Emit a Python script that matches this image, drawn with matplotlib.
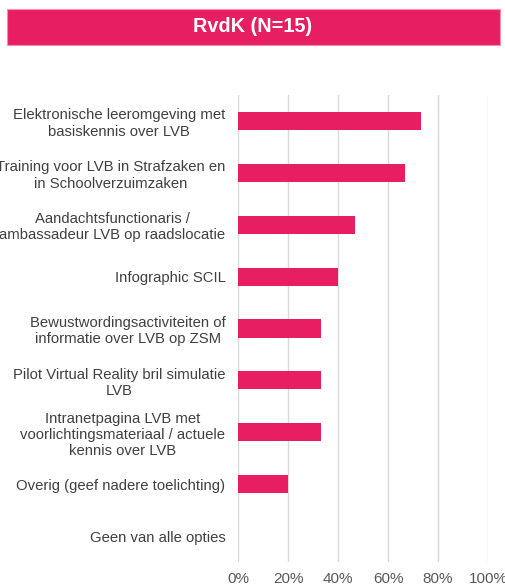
import matplotlib.pyplot as plt
from matplotlib.patches import Rectangle

# Data
categories = [
    "Elektronische leeromgeving met\nbasiskennis over LVB",
    "Training voor LVB in Strafzaken en\nin Schoolverzuimzaken",
    "Aandachtsfunctionaris /\nambassadeur LVB op raadslocatie",
    "Infographic SCIL",
    "Bewustwordingsactiviteiten of\ninformatie over LVB op ZSM",
    "Pilot Virtual Reality bril simulatie\nLVB",
    "Intranetpagina LVB met\nvoorlichtingsmateriaal / actuele\nkennis over LVB",
    "Overig (geef nadere toelichting)",
    "Geen van alle opties",
]
values = [73.3, 66.7, 46.7, 40.0, 33.3, 33.3, 33.3, 20.0, 0.0]
xticks = [0, 20, 40, 60, 80, 100]
title = "RvdK (N=15)"

pink = "#E81E63"
plt.rcParams['font.family'] = ['Liberation Sans', 'DejaVu Sans']

fig = plt.figure(figsize=(5.05, 5.86), dpi=100)
ax = fig.add_axes([238 / 505, 1 - 562 / 586, 250 / 505, 467 / 586])

ypos = list(range(len(categories)))
ax.barh(ypos, values, height=0.35, color=pink, zorder=3)
ax.set_ylim(len(categories) - 0.5, -0.5)
ax.set_xlim(0, 100)
ax.set_xticks(xticks)
ax.set_xticklabels([f"{t}%" for t in xticks], fontsize=11, color="#595959")
ax.set_yticks(ypos)
ax.set_yticklabels(categories, fontsize=10.7, color="#404040", linespacing=1.2,
                   multialignment='center')
ax.tick_params(axis='both', length=0)
ax.tick_params(axis='y', pad=9)
ax.tick_params(axis='x', pad=7)
ax.grid(axis='x', color="#D9D9D9", linewidth=1, zorder=0)
for s in ax.spines.values():
    s.set_visible(False)

# Title banner
banner = Rectangle((7 / 505, 1 - 45 / 586), 493 / 505, 36 / 586,
                   transform=fig.transFigure, facecolor=pink,
                   edgecolor="#F48FB1", linewidth=0.8)
fig.patches.append(banner)
fig.text(253 / 505, 1 - 27 / 586, title, ha='center', va='center',
         color='white', fontsize=14.3, fontweight='bold')

fig.savefig("out.png", dpi=100)
